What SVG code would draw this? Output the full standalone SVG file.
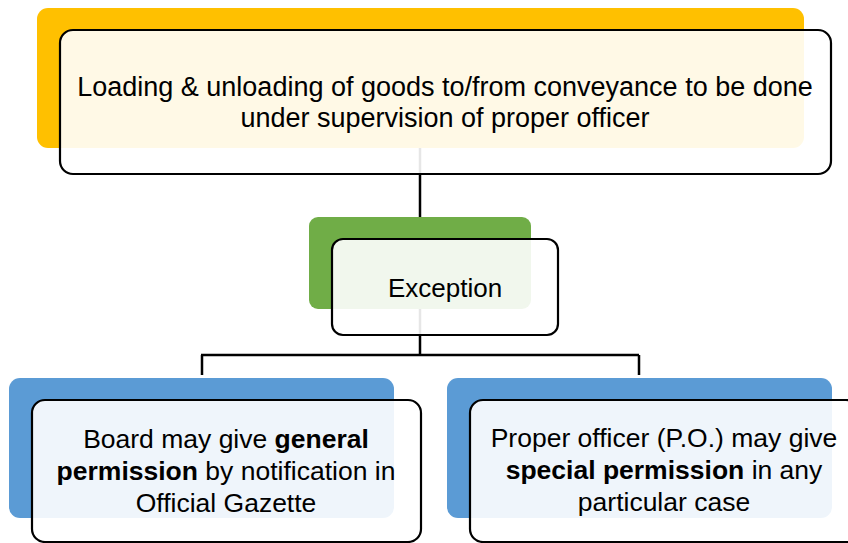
<svg xmlns="http://www.w3.org/2000/svg" width="848" height="543" viewBox="0 0 848 543">
<style>
.bg{stroke:none}
.fg{fill:#ffffff;fill-opacity:0.9;stroke:#000;stroke-width:2.2}
.t{font-family:"Liberation Sans",Arial,sans-serif;font-size:27px;fill:#000;text-anchor:middle}
.b{font-weight:bold}
.c{fill:none;stroke:#000;stroke-width:2.5}
</style>
<rect width="848" height="543" fill="#fff"/>
<g id="connectors">
<line class="c" x1="420" y1="148" x2="420" y2="217"/>
<path class="c" d="M420 309 V355 M201 355 H639 M202 355 V375 M639 355 V375"/>
</g>
<g id="node-main">
<rect class="bg" x="37" y="8" width="767" height="140" rx="11" fill="#FFC000"/>
<rect class="fg" x="60" y="30" width="771" height="144" rx="13"/>
<text class="t" x="445" y="96">Loading &amp; unloading of goods to/from conveyance to be done</text>
<text class="t" x="445" y="127">under supervision of proper officer</text>
</g>
<g id="node-exception">
<rect class="bg" x="309" y="217" width="222" height="92" rx="9" fill="#70AD47"/>
<rect class="fg" x="332" y="239" width="226" height="96" rx="11"/>
<text class="t" x="445" y="297" style="font-size:26px">Exception</text>
</g>
<g id="node-board">
<rect class="bg" x="9" y="378" width="385" height="140" rx="11" fill="#5B9BD5"/>
<rect class="fg" x="32" y="400" width="389" height="142" rx="13"/>
<text class="t" x="226" y="448" style="font-size:26.5px">Board may give <tspan class="b">general</tspan></text>
<text class="t" x="226" y="480" style="font-size:26.5px"><tspan class="b">permission</tspan> by notification in</text>
<text class="t" x="226" y="512" style="font-size:26.5px">Official Gazette</text>
</g>
<g id="node-officer">
<rect class="bg" x="447" y="378" width="385" height="140" rx="11" fill="#5B9BD5"/>
<rect class="fg" x="470" y="400" width="389" height="142" rx="13"/>
<text class="t" x="664" y="447" style="font-size:26.5px">Proper officer (P.O.) may give</text>
<text class="t" x="664" y="479" style="font-size:26.5px"><tspan class="b">special permission</tspan> in any</text>
<text class="t" x="664" y="511" style="font-size:26.5px">particular case</text>
</g>
</svg>
